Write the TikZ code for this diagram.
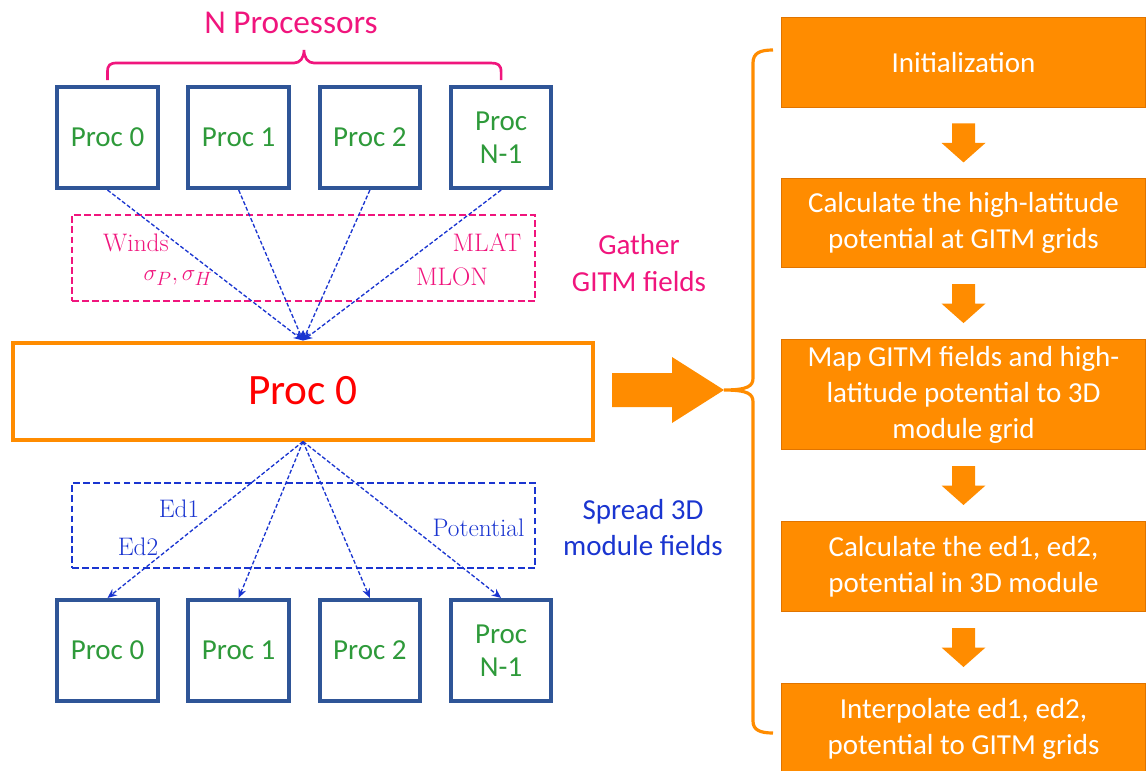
\documentclass[tikz,border=0pt]{standalone}
\usepackage{fontspec}
\newfontfamily\calib{Carlito}
\usetikzlibrary{arrows.meta,calc}

\definecolor{procblue}{HTML}{2F5597}
\definecolor{procgreen}{HTML}{2E9A3A}
\definecolor{hotpink}{HTML}{F0157D}
\definecolor{linkblue}{HTML}{1A35D0}
\definecolor{flow}{HTML}{FF8C00}
\definecolor{flowedge}{HTML}{E07400}

\tikzset{
  proc/.style={draw=procblue, line width=3pt, fill=white,
    minimum width=75.4pt, minimum height=75.8pt, inner sep=0pt,
    align=center, text=procgreen, font=\calib\fontsize{21.75}{25}\selectfont},
  master/.style={draw=flow, line width=3pt, fill=white,
    minimum width=435pt, minimum height=72.75pt, inner sep=0pt,
    text=red, font=\calib\fontsize{32.5}{36}\selectfont},
  fieldbox/.style={line width=1.6pt, dash pattern=on 5pt off 2.6pt,
    minimum width=347.25pt, inner sep=0pt},
  serifnote/.style={inner sep=0pt, font=\fontsize{19}{22}\selectfont},
  sidenote/.style={inner sep=0pt, align=center, font=\calib\fontsize{21.75}{27.5}\selectfont},
  link/.style={draw=linkblue, line width=1pt, dash pattern=on 3pt off 1.6pt,
    -{Stealth[length=7pt,width=6pt]}},
  stage/.style={draw=flowedge, line width=0.8pt, fill=flow, text=white,
    minimum width=273pt, inner sep=0pt, align=center,
    font=\calib\fontsize{21.75}{27}\selectfont},
  pics/stagearrow/.style={code={
    \fill[flow] (-11.5,-19.5) -- (-11.5,0) -- (-22,0) -- (0,19.5)
      -- (22,0) -- (11.5,0) -- (11.5,-19.5) -- cycle;}}
}

\begin{document}
\begin{tikzpicture}[x=0.75pt,y=-0.75pt]
\useasboundingbox (0,0) rectangle (1146,771);
\clip (0,0) rectangle (1146,771);

% ---------- processors that send their fields ----------
\node[proc] (p0) at (107.5,137.5) {Proc 0};
\node[proc] (p1) at (238.7,137.5) {Proc 1};
\node[proc] (p2) at (369.9,137.5) {Proc 2};
\node[proc] (p3) at (501.1,137.5) {Proc\\N-1};

% brace over the processors
\draw[hotpink, line width=2pt]
  (107.5,80) -- (107.5,72) .. controls (107.5,65) and (110,63) .. (117,63)
  -- (294,63) .. controls (300,63) and (304,58) .. (304,50)
  .. controls (304,58) and (308,63) .. (314,63)
  -- (491,63) .. controls (498,63) and (501.1,65) .. (501.1,72) -- (501.1,80);
\node[inner sep=0pt, text=hotpink, font=\calib\fontsize{25}{29}\selectfont]
  (nproc) at (291,23) {N Processors};

% ---------- gathered fields ----------
\node[fieldbox, draw=hotpink, minimum height=64.5pt] (gatherbox) at (303.5,258) {};
\node[serifnote, text=hotpink] (winds) at (136,243) {Winds};
\node[serifnote, text=hotpink] (sigma) at (178,278) {$\sigma_P,\sigma_H$};
\node[serifnote, text=hotpink] (mlat) at (487,243) {MLAT};
\node[serifnote, text=hotpink] (mlon) at (452,277) {MLON};
\node[sidenote, text=hotpink] (gather) at (639,263) {Gather\\GITM fields};

% ---------- the master processor ----------
\node[master] (bigbox) at (303,391) {Proc 0};

\foreach \p in {p0,p1,p2,p3}
  \draw[link] (\p.south) -- (bigbox.north);

% ---------- spread module fields ----------
\node[fieldbox, draw=linkblue, minimum height=63.75pt] (spreadbox) at (303.5,525.5) {};
\node[serifnote, text=linkblue] (ed1) at (179,509) {Ed1};
\node[serifnote, text=linkblue] (ed2) at (138,547) {Ed2};
\node[serifnote, text=linkblue] (pot) at (478.5,528) {Potential};
\node[sidenote, text=linkblue] (spread) at (643,527.5) {Spread 3D\\module fields};

% ---------- processors that receive the fields ----------
\node[proc] (q0) at (107.5,650.5) {Proc 0};
\node[proc] (q1) at (238.7,650.5) {Proc 1};
\node[proc] (q2) at (369.9,650.5) {Proc 2};
\node[proc] (q3) at (501.1,650.5) {Proc\\N-1};

\foreach \q in {q0,q1,q2,q3}
  \draw[link] (bigbox.south) -- (\q.north);

% ---------- big arrow towards the work flow ----------
\coordinate (flowtip) at (724,390);
\fill[flow] (612,373) -- (672,373) -- (672,357) -- (flowtip)
  -- (672,423) -- (672,407) -- (612,407) -- cycle;

% brace gathering the steps
\draw[flow, line width=2.4pt]
  (773,50) .. controls (760,50) and (753,53) .. (753,63) -- (753,378)
  .. controls (753,386) and (748,390) .. (flowtip)
  .. controls (748,390) and (753,394) .. (753,402) -- (753,721)
  .. controls (753,730) and (760,733) .. (773,733);

% ---------- work flow ----------
\node[stage, minimum height=67.5pt] (s1) at (963.5,62.5) {Initialization};
\node[stage, minimum height=67pt] (s2) at (963.5,223)
  {Calculate the high-latitude\\potential at GITM grids};
\node[stage, minimum height=82.5pt] (s3) at (963.5,394.5)
  {Map GITM fields and high-\\latitude potential to 3D\\module grid};
\node[stage, minimum height=67.5pt] (s4) at (963.5,566.5)
  {Calculate the ed1, ed2,\\potential in 3D module};
\node[stage, minimum height=67.5pt] (s5) at (963.5,728.5)
  {Interpolate ed1, ed2,\\potential to GITM grids};

\path ($(s1.south)!0.5!(s2.north)$) pic {stagearrow};
\path ($(s2.south)!0.5!(s3.north)$) pic {stagearrow};
\path ($(s3.south)!0.5!(s4.north)$) pic {stagearrow};
\path ($(s4.south)!0.5!(s5.north)$) pic {stagearrow};
\end{tikzpicture}
\end{document}
